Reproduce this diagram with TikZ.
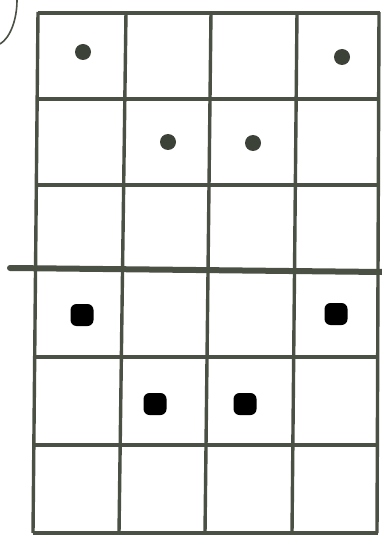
\documentclass[tikz,border=0pt]{standalone}
\usepackage{tikz}
\definecolor{pencil}{HTML}{4A5044}
\definecolor{greydot}{HTML}{3C4238}
\tikzset{gridline/.style={draw=pencil,line width=3.4pt},
  cutline/.style={draw=pencil,line width=6pt,line cap=round},
  softdot/.style={circle,fill=greydot,inner sep=0pt,minimum size=16pt},
  harddot/.style={rounded corners=6pt,fill=black,inner sep=0pt,minimum width=23pt,minimum height=22pt}}
\begin{document}
\begin{tikzpicture}[x=1pt,y=-1pt]
\useasboundingbox (0,0) rectangle (382,537);
\fill[white] (0,0) rectangle (382,537);
% stray arc in the corner
\draw[pencil,line width=1.6pt] (0,44) .. controls (10,38) and (17,20) .. (17,0);
% columns (slightly skewed scan)
\foreach \xt/\xb in {38/33,126/119,211/205,297/292,379/377}
  \draw[gridline] (\xt,12) -- (\xb,533);
% rows
\foreach \y/\xl/\xr in {13/38/380,99/37/380,185/36/380,357/35/379,445/34/378,533/33/378}
  \draw[gridline] (\xl,\y) -- (\xr,\y);
\draw[cutline] (10,268) -- (382,272);
% top half
\node[softdot] (t1) at (83,52) {};
\node[softdot] (t2) at (342,57) {};
\node[softdot] (t3) at (168,142) {};
\node[softdot] (t4) at (253,143) {};
% bottom half
\node[harddot] (b1) at (82,315) {};
\node[harddot] (b2) at (336,314) {};
\node[harddot] (b3) at (155,404) {};
\node[harddot] (b4) at (245,404) {};
\end{tikzpicture}
\end{document}
